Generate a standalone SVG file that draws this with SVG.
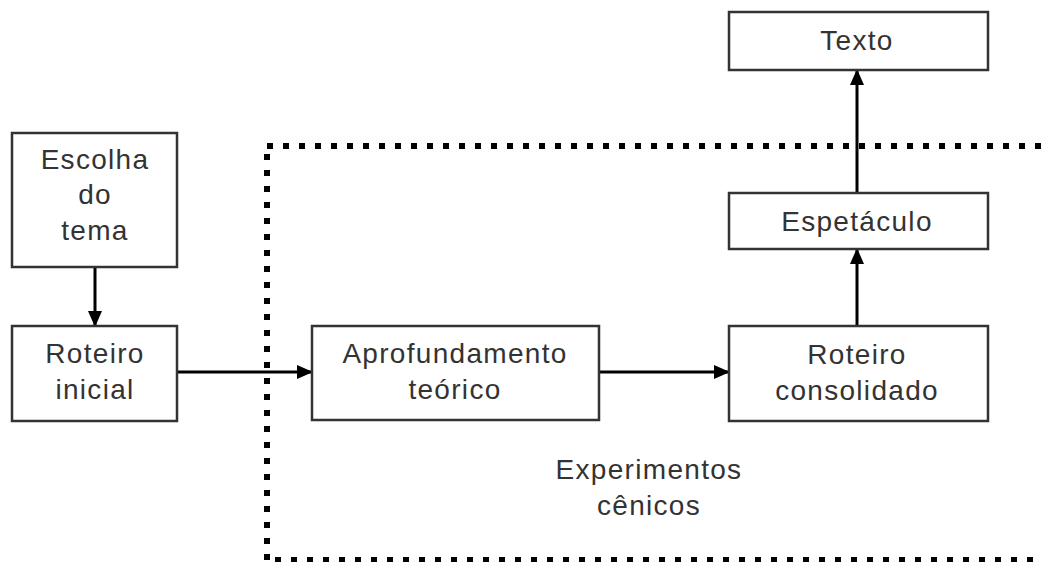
<svg xmlns="http://www.w3.org/2000/svg" width="1043" height="562" viewBox="0 0 1043 562">
<style>
.box{fill:#fff;stroke:#333;stroke-width:2.5}
.t{font-family:"Liberation Sans",Arial,sans-serif;font-size:28px;fill:#333;text-anchor:middle;letter-spacing:1.3px}
.c{stroke:#000;stroke-width:3;fill:none;marker-end:url(#ah)}
.dot{stroke:#000;stroke-width:6;fill:none;stroke-dasharray:6 10}
</style>
<defs>
<marker id="ah" markerUnits="userSpaceOnUse" markerWidth="16" markerHeight="14" refX="15" refY="7" orient="auto">
<path d="M0,0 L16,7 L0,14 Z" fill="#000"/>
</marker>
</defs>
<rect width="1043" height="562" fill="#fff"/>
<g id="frame">
<path class="dot" d="M267,146 H1046"/>
<path class="dot" d="M267,154 V562"/>
<path class="dot" d="M275,560 H1046"/>
<text class="t" x="649" y="479">Experimentos</text>
<text class="t" x="649" y="515">cênicos</text>
</g>
<g id="connectors">
<path class="c" d="M95,267 V326"/>
<path class="c" d="M177,372 H312"/>
<path class="c" d="M599,372 H729"/>
<path class="c" d="M857,326 V249"/>
<path class="c" d="M857,193 V70"/>
</g>
<g id="escolha">
<rect class="box" x="12" y="133" width="165" height="134"/>
<text class="t" x="95" y="169">Escolha</text>
<text class="t" x="95" y="204">do</text>
<text class="t" x="95" y="240">tema</text>
</g>
<g id="roteiro-inicial">
<rect class="box" x="12" y="326" width="165" height="95"/>
<text class="t" x="95" y="363">Roteiro</text>
<text class="t" x="95" y="399">inicial</text>
</g>
<g id="aprofundamento">
<rect class="box" x="312" y="326" width="287" height="94"/>
<text class="t" x="455" y="363">Aprofundamento</text>
<text class="t" x="455" y="399">teórico</text>
</g>
<g id="roteiro-consolidado">
<rect class="box" x="729" y="326" width="259" height="95"/>
<text class="t" x="857" y="364">Roteiro</text>
<text class="t" x="857" y="400">consolidado</text>
</g>
<g id="espetaculo">
<rect class="box" x="729" y="193" width="259" height="56"/>
<text class="t" x="857" y="231">Espetáculo</text>
</g>
<g id="texto">
<rect class="box" x="729" y="12" width="259" height="58"/>
<text class="t" x="857" y="50">Texto</text>
</g>
</svg>
